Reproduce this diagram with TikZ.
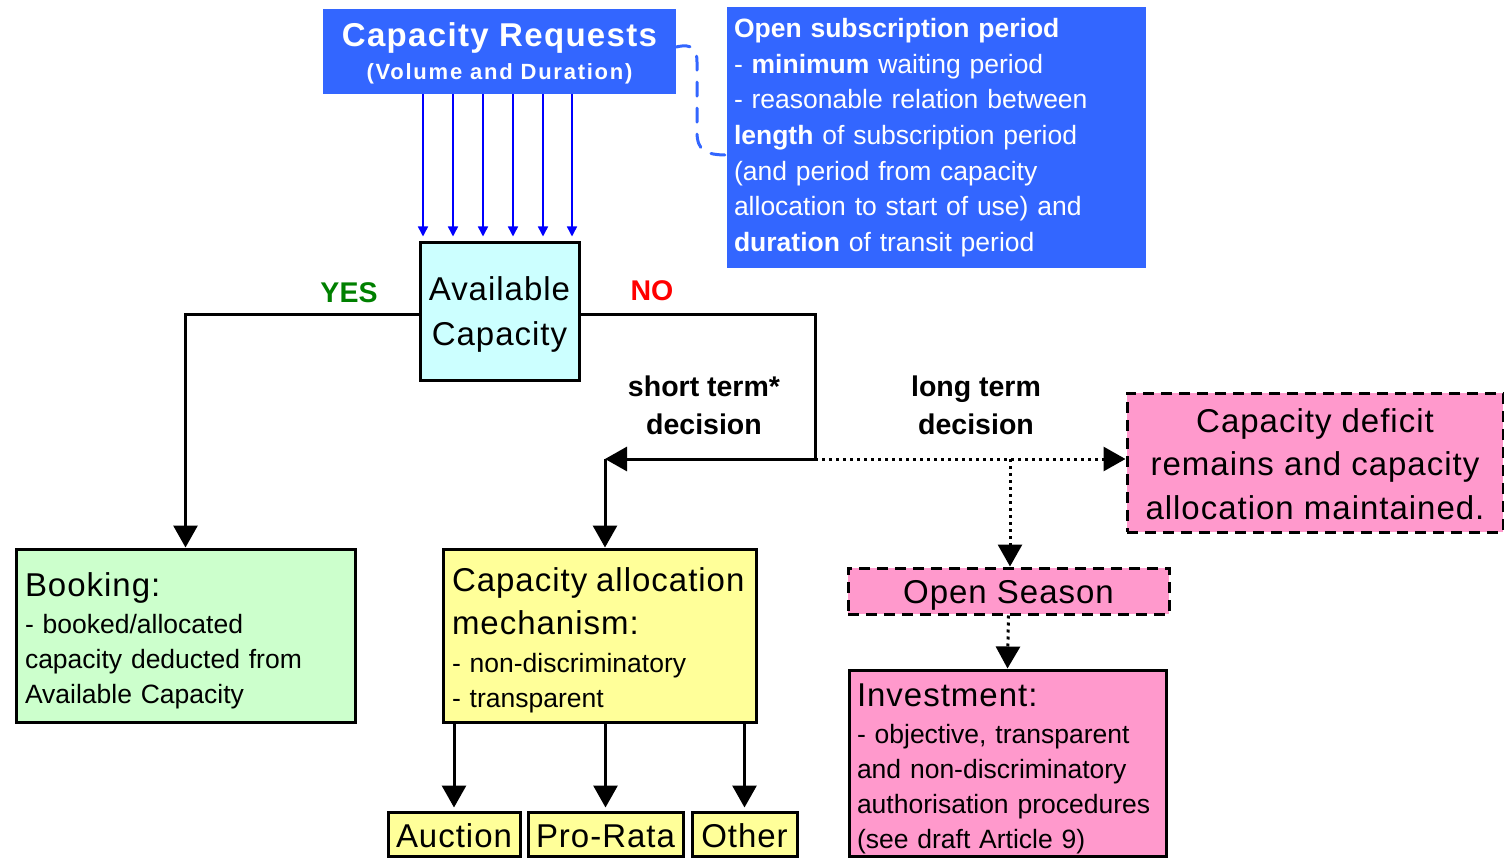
\documentclass[tikz,border=0pt]{standalone}
\usepackage{fontspec}
\setmainfont{Liberation Sans}
\usetikzlibrary{arrows.meta}
\definecolor{reqblue}{RGB}{51,102,255}
\definecolor{availcyan}{RGB}{204,255,255}
\definecolor{bookgreen}{RGB}{204,255,204}
\definecolor{camyellow}{RGB}{255,255,153}
\definecolor{invpink}{RGB}{255,153,204}
\definecolor{yesgreen}{RGB}{0,128,0}
\newcommand{\bigtxt}{\fontsize{33}{44}\selectfont\addfontfeature{LetterSpace=3}}
\newcommand{\smalltxt}{\fontsize{26.5}{35}\selectfont}
\tikzset{
  box/.style={draw=black, line width=3pt, inner sep=0pt},
  dashbox/.style={box, dash pattern=on 11pt off 7pt},
  bluebox/.style={fill=reqblue, inner sep=0pt, text=white},
  flow/.style={line width=3pt, -{Triangle[length=22pt,width=24pt]}},
  dotflow/.style={flow, dash pattern=on 3pt off 4pt},
  reqarrow/.style={blue, line width=1.5pt, -{Triangle[length=10pt,width=10pt]}},
  answer/.style={font=\fontsize{28.5}{38}\selectfont\bfseries},
}
\begin{document}
\begin{tikzpicture}[x=1pt, y=-1pt]
    \useasboundingbox (0,0) rectangle (1504,858);
    % boxes
    \node[bluebox, minimum width=353pt, text height=71pt, text depth=14pt, align=center,
          font=\fontsize{22}{33}\selectfont\bfseries] (req) at (499.5,51.5)
        {{\fontsize{33}{33}\selectfont\addfontfeature{LetterSpace=4}Capacity Requests}\\
         {\addfontfeature{LetterSpace=8}(Volume and Duration)}};
    \node[bluebox, text height=30.5pt, text depth=230.5pt, text width=405pt,
          inner xsep=7pt, align=left, font=\fontsize{26.5}{35.7}\selectfont] (osp) at (936.5,137.5)
        {\textbf{Open subscription period}\\
         - \textbf{minimum} waiting period\\
         - reasonable relation between\\
         \textbf{length} of subscription period\\
         (and period from capacity\\
         allocation to start of use) and\\
         \textbf{duration} of transit period};
    \node[box, fill=availcyan, minimum width=159pt, text height=102pt, text depth=35pt,
          align=center, font=\bigtxt] (avail) at (499.5,311.5) {Available\\Capacity};
    \node[box, fill=bookgreen, text height=47pt, text depth=126pt, text width=321pt,
          inner xsep=9pt, align=left, font=\smalltxt] (book) at (185.5,635.5)
        {{\bigtxt Booking:}\\[2.5pt]
         - booked/allocated\\
         capacity deducted from\\
         Available Capacity};
    \node[box, fill=camyellow, text height=42pt, text depth=131pt, text width=295pt,
          inner xsep=9pt, align=left, font=\smalltxt] (cam) at (599.5,635.5)
        {{\bigtxt Capacity allocation}\\[8pt]
         {\bigtxt mechanism:}\\[3.5pt]
         - non-discriminatory\\
         - transparent};
    \node[box, fill=camyellow, minimum width=132pt, text height=35pt, text depth=9pt, font=\bigtxt] (auction) at (454,834) {Auction};
    \node[box, fill=camyellow, minimum width=155pt, text height=35pt, text depth=9pt, font=\bigtxt] (prorata) at (605.5,834) {Pro-Rata};
    \node[box, fill=camyellow, minimum width=105pt, text height=35pt, text depth=9pt, font=\bigtxt] (other) at (744.5,834) {Other};
    \node[dashbox, fill=invpink, minimum width=376pt, text height=126pt, text depth=13pt,
          align=center, font={\fontsize{33}{43.5}\selectfont\addfontfeature{LetterSpace=3}}] (deficit) at (1315,462.5)
        {Capacity deficit\\remains and capacity\\allocation maintained.};
    \node[dashbox, fill=invpink, minimum width=321pt, text height=35pt, text depth=11pt, font=\bigtxt] (season) at (1008.5,591) {Open Season};
    \node[box, fill=invpink, text height=36pt, text depth=150pt, text width=301pt,
          inner xsep=8pt, align=left, font=\smalltxt] (invest) at (1007.5,763)
        {{\bigtxt Investment:}\\[2.5pt]
         - objective, transparent\\
         and non-discriminatory\\
         authorisation procedures\\
         (see draft Article 9)};
    % labels
    \node[answer, text=yesgreen] (yes) at (349,293) {YES};
    \node[answer, text=red] (no) at (652,291) {NO};
    \node[answer, align=center] (short) at (704,405) {short term*\\decision};
    \node[answer, align=center] (long) at (976,405) {long term\\decision};
    % connectors
    \coordinate (turn)   at (815,459);
    \coordinate (corner) at (605,459);
    \coordinate (fork)   at (1010,459);
    \draw[reqblue, line width=3pt, dash pattern=on 14pt off 12pt, line cap=round]
        ([yshift=4.5pt]req.east) .. controls (693,43) and (697,50) .. (697,62)
        -- (697,132) .. controls (697,150) and (705,155) .. (osp.west |- 0,155);
    \foreach \x in {423,453,483,513,543,572}
        \draw[reqarrow] (req.south -| \x,0) -- ([yshift=5pt]avail.north -| \x,0);
    \draw[flow] ([yshift=-3.5pt]avail.west) -| (book.north);
    \draw[line width=3pt] ([yshift=-3.5pt]avail.east) -| (turn);
    \draw[flow] (turn) -- (corner);
    \draw[flow] (corner) -- (corner |- cam.north);
    \draw[dotflow] (turn) -- (turn -| deficit.west);
    \draw[dotflow] (fork) -- (fork |- season.north);
    \draw[dotflow] (season.south) -- (invest.north);
    \foreach \b in {auction,prorata,other}
        \draw[flow] (cam.south -| \b.north) -- ([yshift=3pt]\b.north);
\end{tikzpicture}
\end{document}
